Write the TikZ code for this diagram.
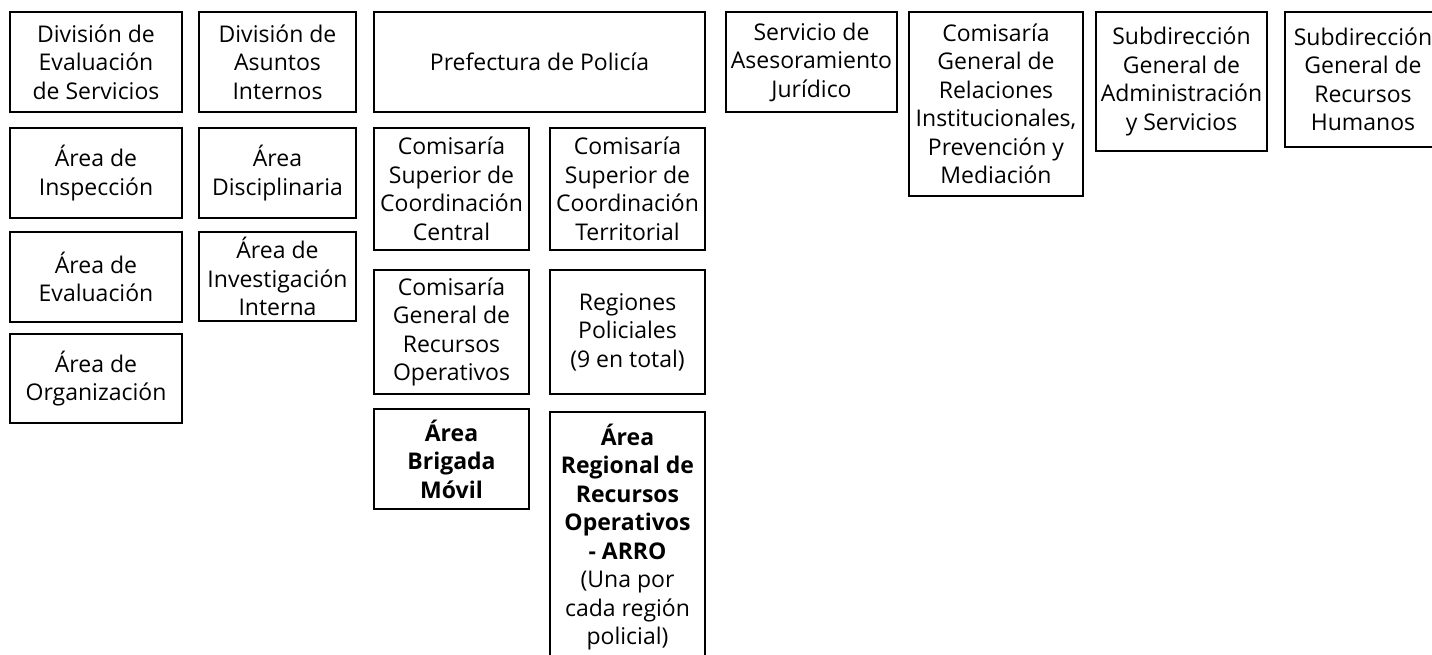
\documentclass[tikz,border=0pt]{standalone}
\usepackage{fontspec}
\setmainfont{Open Sans}
\begin{document}
\begin{tikzpicture}[x=1pt,y=-1pt,
  box/.style={draw=black,line width=2.6pt,inner sep=0pt,align=center,
    font=\fontsize{23}{28.5}\selectfont,text=black}]
\useasboundingbox[fill=white] (0,0) rectangle (1432,655);
\node[box,minimum width=172,minimum height=100] (divev) at (96,62) {División de\\Evaluación\\de Servicios};
\node[box,minimum width=157,minimum height=100] (divai) at (277.5,62) {División de\\Asuntos\\Internos};
\node[box,minimum width=172,minimum height=90] (insp) at (96,173) {Área de\\Inspección};
\node[box,minimum width=157,minimum height=90] (disc) at (277.5,173) {Área\\Disciplinaria};
\node[box,minimum width=172,minimum height=90] (eval) at (96,277) {Área de\\Evaluación};
\node[box,minimum width=157,minimum height=89] (inv) at (277.5,276.5) {Área de\\Investigación\\Interna};
\node[box,minimum width=172,minimum height=89] (org) at (96,378.5) {Área de\\Organización};
\node[box,minimum width=331,minimum height=100] (pref) at (539.5,62) {Prefectura de Policía};
\node[box,minimum width=155,minimum height=122] (cscc) at (451.5,189) {Comisaría\\Superior de\\Coordinación\\Central};
\node[box,minimum width=155,minimum height=122] (csct) at (627.5,189) {Comisaría\\Superior de\\Coordinación\\Territorial};
\node[box,minimum width=155,minimum height=124] (cgro) at (451.5,332) {Comisaría\\General de\\Recursos\\Operativos};
\node[box,minimum width=155,minimum height=124] (reg) at (627.5,332) {Regiones\\Policiales\\(9 en total)};
\node[box,minimum width=155,minimum height=100] (abm) at (451.5,459) {\textbf{Área}\\\textbf{Brigada}\\\textbf{Móvil}};
\node[box,minimum width=155,minimum height=250] (arro) at (627.5,537) {\textbf{Área}\\\textbf{Regional de}\\\textbf{Recursos}\\\textbf{Operativos}\\\textbf{- ARRO}\\(Una por\\cada región\\policial)};
\node[box,minimum width=171,minimum height=100] (saj) at (811.5,62) {Servicio de\\Asesoramiento\\Jurídico};
\node[box,minimum width=174,minimum height=184] (cgr) at (996,104) {Comisaría\\General de\\Relaciones\\Institucionales,\\Prevención y\\Mediación};
\node[box,minimum width=171,minimum height=139] (sgas) at (1181.5,81.5) {Subdirección\\General de\\Administración\\y Servicios};
\node[box,minimum width=156,minimum height=135] (sgrh) at (1363,79.5) {Subdirección\\General de\\Recursos\\Humanos};
\end{tikzpicture}
\end{document}
